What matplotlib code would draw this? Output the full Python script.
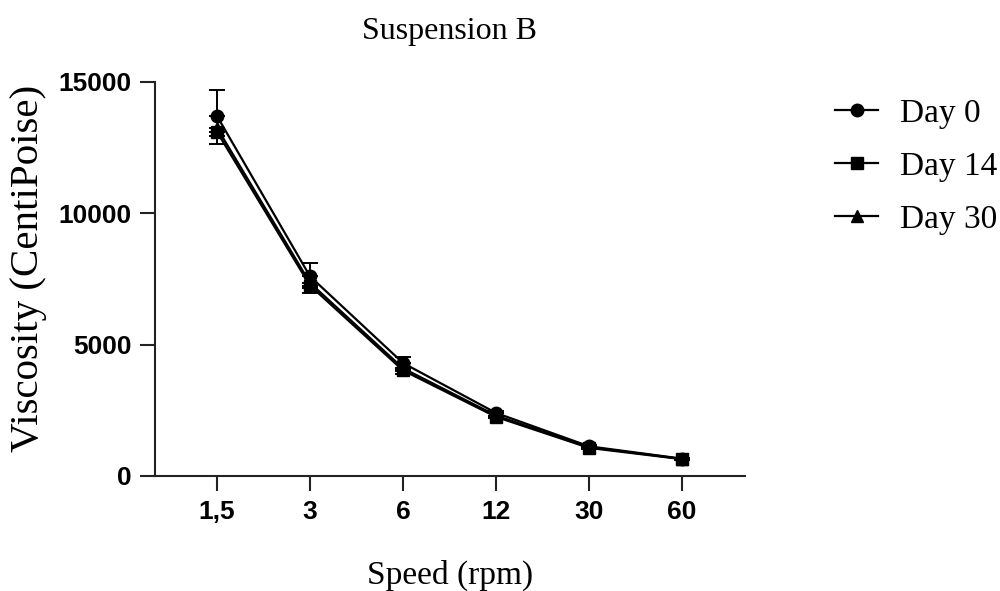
import matplotlib
matplotlib.use("Agg")
import matplotlib.pyplot as plt
from matplotlib.lines import Line2D
import numpy as np

speeds = ["1,5", "3", "6", "12", "30", "60"]
day0 = [13700, 7600, 4300, 2400, 1130, 660]
day0_err = [1000, 520, 240, 80, 60, 30]
day14 = [13100, 7250, 4020, 2250, 1070, 640]
day14_err = [450, 280, 130, 60, 40, 25]
day30 = [13250, 7350, 4100, 2300, 1100, 650]
day30_err = [300, 200, 100, 50, 30, 20]

serif = "Liberation Serif"
sans = "Liberation Sans"

fig = plt.figure(figsize=(10, 5.91), dpi=100)
ax = fig.add_axes([0.155, 0.1946, 0.59, 0.6667])

x = np.arange(len(speeds))
zero = [0] * len(speeds)
style = dict(color="black", lw=1.6, capsize=6, elinewidth=1.4, capthick=1.4)
ax.errorbar(x, day30, yerr=[day30_err, zero], marker="^", ms=8.5, zorder=1, **style)
ax.errorbar(x, day14, yerr=[day14_err, zero], marker="s", ms=8, zorder=2, **style)
ax.errorbar(x, day0, yerr=[zero, day0_err], marker="o", ms=9, zorder=3, **style)

ax.set_xlim(-0.667, 5.677)
ax.set_ylim(0, 15000)
ax.set_xticks(x)
ax.set_xticklabels(speeds)
ax.set_yticks([0, 5000, 10000, 15000])
for lab in ax.get_xticklabels() + ax.get_yticklabels():
    lab.set_fontfamily(sans)
    lab.set_fontweight("bold")
    lab.set_fontsize(19)
ax.tick_params(axis="both", length=11, width=1.5, color="#222222", pad=6)
ax.spines["top"].set_visible(False)
ax.spines["right"].set_visible(False)
for s in ["left", "bottom"]:
    ax.spines[s].set_linewidth(1.5)
    ax.spines[s].set_color("#222222")

fig.text(0.45, 1 - 31 / 591, "Suspension B", fontfamily=serif, fontsize=23,
         ha="center", va="center")
fig.text(0.45, 1 - 575 / 591, "Speed (rpm)", fontfamily=serif, fontsize=24,
         ha="center", va="center")
fig.text(0.029, 1 - 268 / 591, "Viscosity (CentiPoise)", fontfamily=serif, fontsize=29.5,
         ha="center", va="center", rotation=90)

handles = [
    Line2D([], [], color="black", lw=1.6, marker="o", ms=9, label="Day 0"),
    Line2D([], [], color="black", lw=1.6, marker="s", ms=8, label="Day 14"),
    Line2D([], [], color="black", lw=1.6, marker="^", ms=8.5, label="Day 30"),
]
fig.legend(handles=handles, loc="upper left", bbox_to_anchor=(0.822, 0.856),
           borderaxespad=0, frameon=False, prop={"family": serif, "size": 24},
           handlelength=1.29, labelspacing=0.67, handletextpad=0.66)

fig.savefig("out.png", dpi=100)
